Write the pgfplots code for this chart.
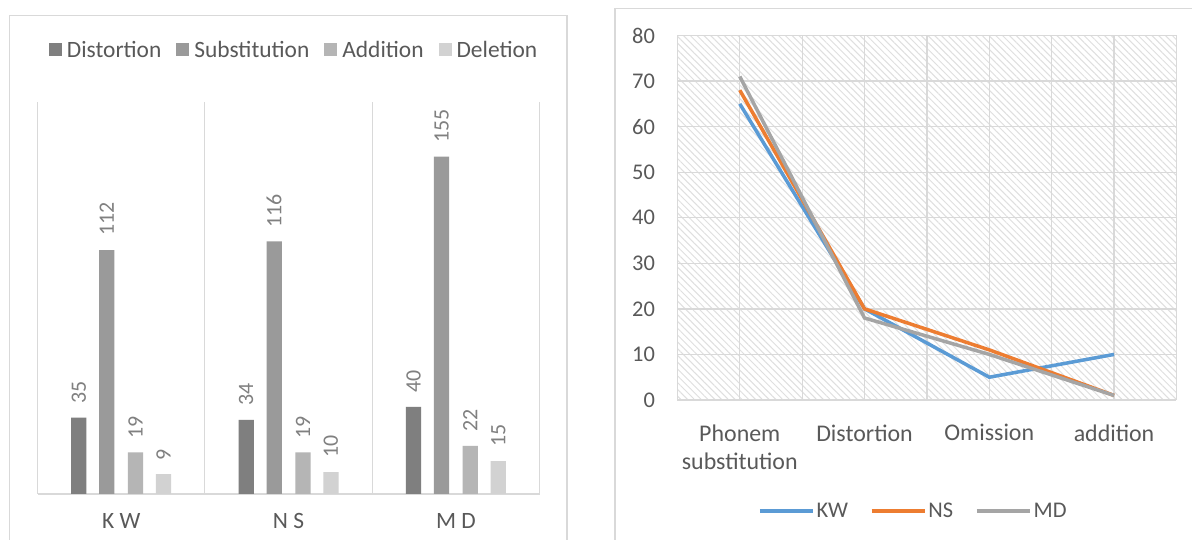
\documentclass[border=0pt]{standalone}
\usepackage{fontspec}
\setmainfont{Carlito}
\usepackage{pgfplots}
\usepackage{pgfplotstable}
\pgfplotsset{compat=1.18}
\usetikzlibrary{patterns.meta}
\definecolor{txt}{HTML}{595959}
\definecolor{lbl}{HTML}{808080}
\definecolor{grd}{HTML}{D9D9D9}
\definecolor{c1}{HTML}{7F7F7F}
\definecolor{c2}{HTML}{9A9A9A}
\definecolor{c3}{HTML}{B5B5B5}
\definecolor{c4}{HTML}{D2D2D2}
\definecolor{kw}{HTML}{5B9BD5}
\definecolor{ns}{HTML}{ED7D31}
\definecolor{md}{HTML}{A5A5A5}

\pgfplotstableread{
x dist sub add del
0 35 112 19 9
1 34 116 19 10
2 40 155 22 15
}\bars
\pgfplotstableread{
x kw ns md
0 65 68 71
1 20 20 18
2 5 11 10
3 10 1 1
}\lines

\pgfplotsset{
  mybar/.style={ybar, bar width=15.3bp, bar shift=0bp, draw=none, fill=#1,
    legend image code/.code={\fill[#1] (0bp,-6bp) rectangle (13bp,7bp);}},
}

\begin{document}
\begin{tikzpicture}[x=1bp,y=1bp]
\useasboundingbox (0,0) rectangle (1192,540);
\clip (0,0) rectangle (1192,540);
\fill[white] (0,0) rectangle (1192,540);
\draw[grd, line width=1.5bp] (9.6,-10) rectangle (567,524.5);
\draw[grd, line width=1.5bp] (615,-10) rectangle (1210,531.4);

\begin{axis}[at={(37.5bp,46.2bp)}, anchor=south west, scale only axis,
  width=502.1bp, height=391.6bp,
  xmin=-0.5, xmax=2.5, ymin=0, ymax=180,
  separate axis lines,
  axis x line*=bottom, axis y line*=left,
  x axis line style={-, draw=grd, line width=1.5bp},
  y axis line style={draw=none},
  xtick={0,1,2}, xticklabels={K W, N S, M D},
  minor xtick={-0.5,0.5,1.5,2.5}, xminorgrids=true,
  minor grid style={grd, line width=1.2bp},
  ytick=\empty,
  major tick length=0, minor tick length=0,
  xticklabel style={font=\fontsize{23.5}{28}\selectfont, text=txt, yshift=-16bp},
  /pgf/number format/assume math mode=true,
  nodes near coords,
  every node near coord/.append style={rotate=90, anchor=west, inner xsep=14bp,
     font=\fontsize{22}{26}\selectfont, text=lbl},
  legend style={at={(0.511,1.134)}, anchor=center, legend columns=4, draw=none,
     fill=none, font=\fontsize{23.5}{28}\selectfont, text=txt,
     /tikz/every even column/.style={column sep=13bp},
     /tikz/every odd column/.style={column sep=3bp}},
  legend cell align=left,
]
\addplot[mybar=c1] table[x expr=\thisrow{x}-0.2533,y=dist]{\bars};
\addplot[mybar=c2] table[x expr=\thisrow{x}-0.0860,y=sub]{\bars};
\addplot[mybar=c3] table[x expr=\thisrow{x}+0.0860,y=add]{\bars};
\addplot[mybar=c4] table[x expr=\thisrow{x}+0.2533,y=del]{\bars};
\legend{Distortion, Substitution, Addition, Deletion}
\end{axis}

\begin{axis}[at={(677.4bp,140bp)}, anchor=south west, scale only axis,
  width=499bp, height=364.5bp,
  xmin=-0.5, xmax=3.5, ymin=0, ymax=80, ytick={0,10,...,80},
  separate axis lines,
  axis x line*=bottom, axis y line*=left,
  x axis line style={-, draw=grd, line width=2.5bp},
  y axis line style={draw=none},
  xtick={0,1,2,3},
  xticklabels={Phonem\\substitution, Distortion, Omission, addition},
  minor xtick={-0.5,0.5,1.5,2.5,3.5},
  xmajorgrids=true, xminorgrids=true, ymajorgrids=true,
  major grid style={grd, line width=1.3bp},
  minor grid style={grd, line width=1.3bp},
  major tick length=0, minor tick length=0,
  axis background/.style={pattern={Lines[angle=-45,distance=4.8bp,line width=1bp]}, pattern color=gray!25},
  xticklabel style={font=\fontsize{24}{28}\selectfont, text=txt, align=center, yshift=-21bp},
  yticklabel style={font=\fontsize{22.5}{26}\selectfont, text=txt, xshift=-19bp},
  /pgf/number format/assume math mode=true,
  legend style={at={(0.473,-0.3045)}, anchor=center, legend columns=3, draw=none,
     fill=none, font=\fontsize{22.5}{26}\selectfont, text=txt,
     /tikz/every even column/.style={column sep=20bp}},
  legend image code/.code={\draw[#1] (0bp,0bp) -- (53bp,0bp);},
]
\addplot[kw, line width=3.5bp] table[x=x,y=kw]{\lines};
\addplot[ns, line width=3.5bp] table[x=x,y=ns]{\lines};
\addplot[md, line width=3.5bp] table[x=x,y=md]{\lines};
\legend{KW, NS, MD}
\end{axis}
\end{tikzpicture}
\end{document}
